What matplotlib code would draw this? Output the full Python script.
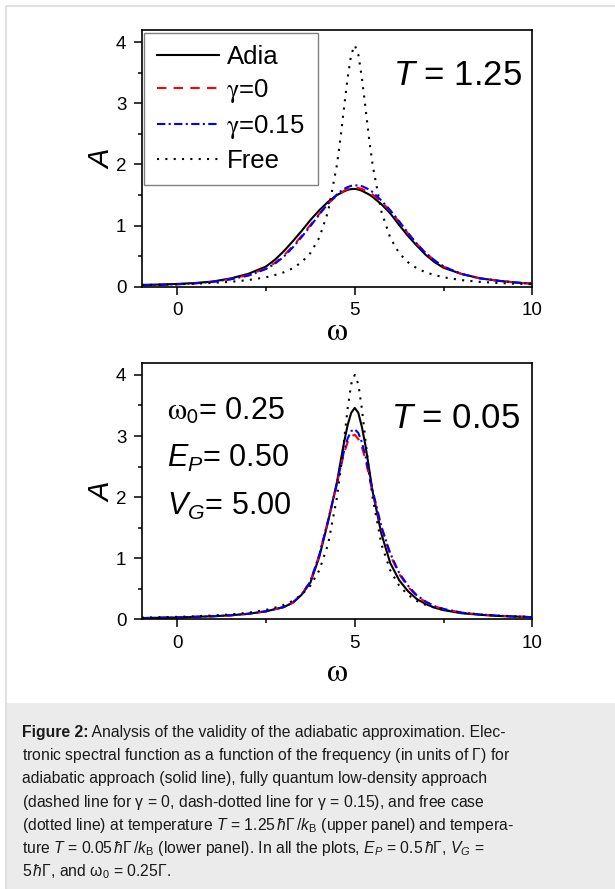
import matplotlib
matplotlib.use("Agg")
import matplotlib.pyplot as plt
from matplotlib.patches import Rectangle

plt.rcParams['font.family'] = ['Liberation Sans', 'DejaVu Sans']
plt.rcParams['mathtext.fontset'] = 'custom'
plt.rcParams['mathtext.rm'] = 'Liberation Sans'
plt.rcParams['mathtext.it'] = 'Liberation Sans:italic'
plt.rcParams['mathtext.bf'] = 'Liberation Sans:bold'

# =============================================================================
# Data (omega in units of Gamma)
# =============================================================================
omega = [-1, -0.5, 0, 0.5, 1, 1.5, 2, 2.5, 2.75, 3, 3.25, 3.5, 3.75, 4, 4.25,
         4.5, 4.6, 4.7, 4.8, 4.9, 5, 5.1, 5.2, 5.3, 5.4, 5.5, 5.75, 6, 6.25,
         6.5, 6.75, 7, 7.25, 7.5, 8, 8.5, 9, 9.5, 10]

# upper panel, T = 1.25
adia_hi = [0.03, 0.035, 0.045, 0.06, 0.085, 0.135, 0.21, 0.33, 0.44, 0.58, 0.74,
           0.91, 1.09, 1.25, 1.39, 1.50, 1.53, 1.56, 1.585, 1.597, 1.60, 1.59,
           1.57, 1.54, 1.51, 1.47, 1.35, 1.20, 1.01, 0.83, 0.67, 0.52, 0.40,
           0.31, 0.21, 0.14, 0.10, 0.07, 0.05]
g0_hi = [0.025, 0.03, 0.04, 0.055, 0.08, 0.125, 0.19, 0.30, 0.39, 0.51, 0.66,
         0.83, 1.01, 1.19, 1.36, 1.49, 1.53, 1.57, 1.60, 1.615, 1.62, 1.615,
         1.60, 1.575, 1.545, 1.51, 1.39, 1.24, 1.06, 0.87, 0.70, 0.55, 0.43,
         0.33, 0.21, 0.14, 0.10, 0.07, 0.05]
g015_hi = [0.025, 0.03, 0.04, 0.055, 0.08, 0.12, 0.18, 0.29, 0.375, 0.49, 0.64,
           0.81, 0.99, 1.18, 1.36, 1.51, 1.56, 1.60, 1.63, 1.65, 1.66, 1.655,
           1.645, 1.62, 1.59, 1.55, 1.41, 1.25, 1.07, 0.88, 0.70, 0.55, 0.43,
           0.33, 0.21, 0.14, 0.10, 0.07, 0.05]
free_hi = [0.028, 0.033, 0.040, 0.049, 0.062, 0.080, 0.108, 0.154, 0.19, 0.235,
           0.30, 0.40, 0.55, 0.80, 1.23, 2.0, 2.44, 2.94, 3.42, 3.80, 3.95, 3.80,
           3.42, 2.94, 2.44, 2.0, 1.23, 0.80, 0.55, 0.40, 0.30, 0.235, 0.19,
           0.154, 0.108, 0.080, 0.062, 0.049, 0.040]

# lower panel, T = 0.05
adia_lo = [0.02, 0.025, 0.03, 0.04, 0.05, 0.065, 0.09, 0.13, 0.165, 0.20, 0.27,
           0.40, 0.60, 1.02, 1.60, 2.25, 2.58, 2.90, 3.18, 3.38, 3.46, 3.38,
           3.15, 2.85, 2.48, 2.10, 1.40, 0.92, 0.64, 0.46, 0.33, 0.25, 0.19,
           0.15, 0.10, 0.075, 0.055, 0.045, 0.035]
g0_lo = [0.02, 0.025, 0.03, 0.04, 0.05, 0.065, 0.09, 0.13, 0.165, 0.20, 0.27,
         0.40, 0.62, 1.05, 1.62, 2.22, 2.48, 2.72, 2.90, 3.00, 3.02, 2.95, 2.82,
         2.62, 2.35, 2.08, 1.50, 1.05, 0.74, 0.53, 0.38, 0.28, 0.21, 0.17,
         0.11, 0.08, 0.06, 0.045, 0.035]
g015_lo = [0.02, 0.025, 0.03, 0.04, 0.05, 0.065, 0.09, 0.13, 0.165, 0.20, 0.27,
           0.40, 0.62, 1.05, 1.62, 2.22, 2.50, 2.76, 2.96, 3.08, 3.11, 3.05,
           2.90, 2.68, 2.40, 2.12, 1.52, 1.08, 0.76, 0.55, 0.39, 0.29, 0.215,
           0.17, 0.11, 0.08, 0.06, 0.045, 0.035]
free_lo = [0.028, 0.033, 0.040, 0.049, 0.062, 0.080, 0.108, 0.154, 0.19, 0.235,
           0.30, 0.40, 0.55, 0.80, 1.23, 2.0, 2.44, 2.94, 3.45, 3.85, 4.0, 3.85,
           3.45, 2.94, 2.44, 2.0, 1.23, 0.80, 0.55, 0.40, 0.30, 0.235, 0.19,
           0.154, 0.108, 0.080, 0.062, 0.049, 0.040]

labels = ['Adia', r'$\mathrm{\gamma}$=0', r'$\mathrm{\gamma}$=0.15', 'Free']
x_ticks = [0, 5, 10]
y_ticks = [0, 1, 2, 3, 4]
params_text = [r'$\mathrm{\omega}_\mathsf{0}$= 0.25', r'$E_P$= 0.50', r'$V_G$= 5.00']
params_math = ['stix', 'custom', 'custom']

caption_head = 'Figure 2:'
caption_lines = [
    r' Analysis of the validity of the adiabatic approximation. Elec-',
    r'tronic spectral function as a function of the frequency (in units of $\Gamma$) for',
    r'adiabatic approach (solid line), fully quantum low-density approach',
    r'(dashed line for $\mathrm{\gamma}$ = 0, dash-dotted line for $\mathrm{\gamma}$ = 0.15), and free case',
    r'(dotted line) at temperature $T$ = 1.25$\,\hbar\Gamma\,/k_\mathrm{B}$ (upper panel) and tempera-',
    r'ture $T$ = 0.05$\,\hbar\Gamma\,/k_\mathrm{B}$ (lower panel). In all the plots, $E_P$ = 0.5$\,\hbar\Gamma$, $V_G$ =',
    r'5$\,\hbar\Gamma$, and $\mathrm{\omega}_0$ = 0.25$\Gamma$.',
]

styles = [
    dict(color='black', ls='-'),
    dict(color='#ff0000', ls=(0, (4.5, 3.5))),
    dict(color='#0000ff', ls=(0, (4, 1.6, 1, 1.6))),
    dict(color='black', ls=(0, (1, 3))),
]

W, H = 615, 889
fig = plt.figure(figsize=(W / 100, H / 100), dpi=100)

# page frame and caption box
fig.patches.append(Rectangle((6 / W, 0), 1, 1 - 6 / H, transform=fig.transFigure,
                             facecolor='white', edgecolor='#dcdcdc', lw=1.2, zorder=-10))
fig.patches.append(Rectangle((6.5 / W, 0), 1, 1 - 703 / H, transform=fig.transFigure,
                             facecolor='#ebebeb', edgecolor='none', zorder=-9))


def make_axes(bottom_px, top_px):
    left, right = 141.7, 532.3
    ax = fig.add_axes([left / W, 1 - bottom_px / H, (right - left) / W,
                       (bottom_px - top_px) / H])
    ax.set_xlim(-1, 10)
    ax.set_ylim(0, 4.2)
    ax.set_xticks(x_ticks)
    ax.set_yticks(y_ticks)
    ax.set_xticks([2.5, 7.5], minor=True)
    ax.set_yticks([0.5, 1.5, 2.5, 3.5], minor=True)
    ax.tick_params(which='major', direction='out', length=6, width=1.1,
                   labelsize=13.5, pad=5, top=False, right=False)
    ax.tick_params(which='minor', direction='out', length=3, width=1.1,
                   top=False, right=False)
    for s in ax.spines.values():
        s.set_linewidth(1.2)
    ax.set_xlabel(r'$\mathrm{\omega}$', fontsize=24, math_fontfamily='stix')
    ax.set_ylabel('$A$', fontsize=21)
    ax.yaxis.set_label_coords(-0.068, 0.5)
    return ax


ax1 = make_axes(286.7, 30)
ax1.xaxis.set_label_coords(0.5, -0.115)
for y, lab, st in zip([adia_hi, g0_hi, g015_hi, free_hi], labels, styles):
    ax1.plot(omega, y, lw=1.5, label=lab, **st)
leg = ax1.legend(loc='upper left', prop=dict(size=18.5, math_fontfamily='stix'),
                 handlelength=2.4, handletextpad=0.3, labelspacing=0.3,
                 borderpad=0.5, borderaxespad=0.1, fancybox=False, framealpha=1)
leg.get_frame().set_edgecolor('#808080')
leg.get_frame().set_linewidth(1.0)
ax1.text(0.973, 0.786, '$T$ = 1.25', transform=ax1.transAxes, ha='right',
         va='baseline', fontsize=25)

ax2 = make_axes(619.3, 362.7)
ax2.xaxis.set_label_coords(0.5, -0.145)
for y, st in zip([adia_lo, g0_lo, g015_lo, free_lo], styles):
    ax2.plot(omega, y, lw=1.5, **st)
ax2.text(0.969, 0.744, '$T$ = 0.05', transform=ax2.transAxes, ha='right',
         va='baseline', fontsize=25)
for txt, mf, yb in zip(params_text, params_math, [0.777, 0.595, 0.407]):
    ax2.text(0.064, yb, txt, transform=ax2.transAxes, ha='left', va='baseline',
             fontsize=22, math_fontfamily=mf)

# caption
cap_fs = 11.3
renderer = fig.canvas.get_renderer()
head = fig.text(22 / W, 1 - 736.7 / H, caption_head, ha='left', va='baseline',
                fontsize=cap_fs, weight='bold', color='#1a1a1a')
head_end = head.get_window_extent(renderer).x1 / W
for i, line in enumerate(caption_lines):
    x0 = head_end if i == 0 else 22 / W
    fig.text(x0, 1 - (736.7 + i * 23.3) / H, line, ha='left', va='baseline',
             fontsize=cap_fs, color='#1a1a1a')

fig.savefig('out.png', dpi=100)
